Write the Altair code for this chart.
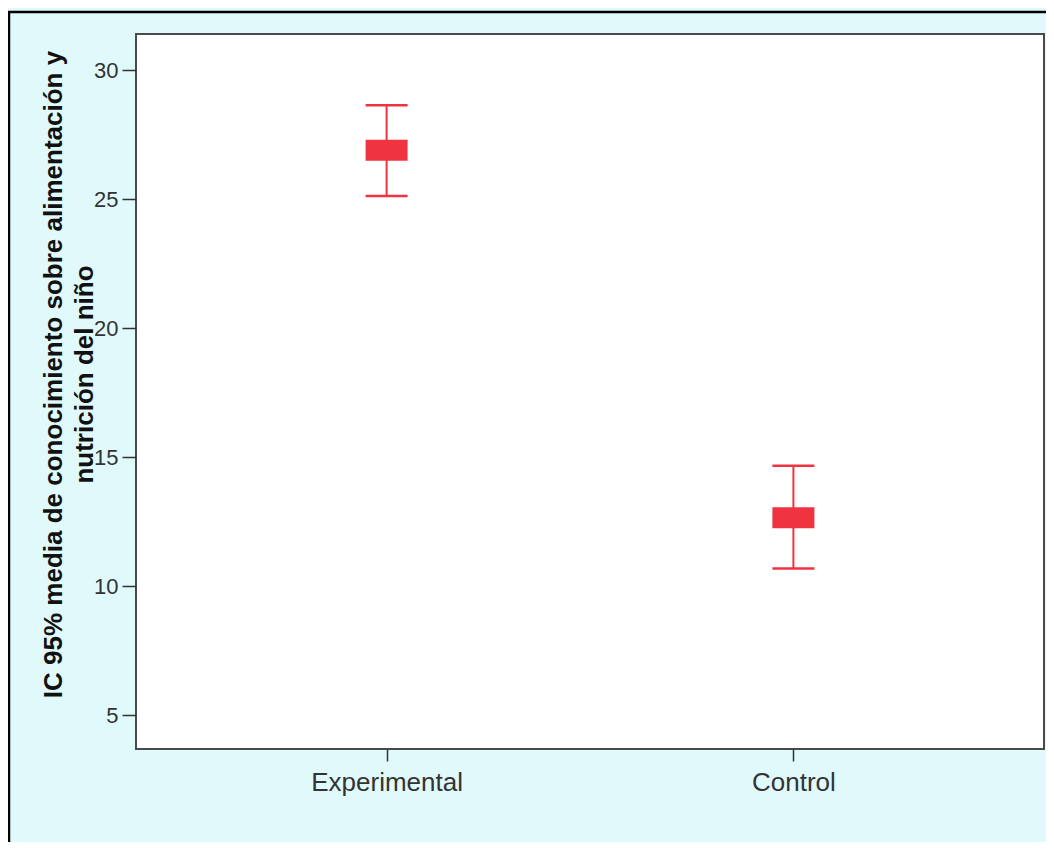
import altair as alt
import pandas as pd

groups = ["Experimental", "Control"]
means = [26.90, 12.66]
lower = [25.12, 10.69]
upper = [28.64, 14.67]
y_ticks = [5, 10, 15, 20, 25, 30]
y_title = ["IC 95% media de conocimiento sobre alimentación y", "nutrición del niño"]

df = pd.DataFrame({"grupo": groups, "media": means, "inf": lower, "sup": upper})

RED = "#EF3340"
FONT = "Liberation Sans"

x_enc = alt.X(
    "grupo:N",
    sort=groups,
    scale=alt.Scale(type="point", padding=0.616),
    axis=alt.Axis(
        title=None, labelAngle=0, labelFontSize=26, labelFont=FONT,
        labelColor="#333333", tickSize=12, tickColor="#333333", tickWidth=1.5,
        domain=False, grid=False, labelPadding=8,
    ),
)
y_scale = alt.Scale(domain=[3.7, 31.4], nice=False, zero=False)
y_axis = alt.Axis(
    values=y_ticks, tickSize=14, tickColor="#333333", tickWidth=1.5,
    labelFontSize=22, labelFont=FONT, labelColor="#333333", labelPadding=4,
    domain=False, grid=False,
    title=y_title, titleFont=FONT, titleFontSize=26, titleFontWeight="bold",
    titleColor="#111111", titleAngle=270, titleX=-83, titleY=340,
    titleAlign="center", titleBaseline="middle", titleLineHeight=31,
)

base = alt.Chart(df)

rule = base.mark_rule(color=RED, strokeWidth=2).encode(
    x=x_enc,
    y=alt.Y("inf:Q", scale=y_scale, axis=y_axis),
    y2="sup:Q",
)
cap_low = base.mark_tick(color=RED, size=42, thickness=2.5, orient="horizontal", opacity=1).encode(
    x=x_enc, y=alt.Y("inf:Q", scale=y_scale, axis=y_axis)
)
cap_high = base.mark_tick(color=RED, size=42, thickness=2.5, orient="horizontal", opacity=1).encode(
    x=x_enc, y=alt.Y("sup:Q", scale=y_scale, axis=y_axis)
)
box = base.mark_tick(color=RED, size=42, thickness=21, orient="horizontal", opacity=1).encode(
    x=x_enc, y=alt.Y("media:Q", scale=y_scale, axis=y_axis)
)

frame_df = pd.DataFrame({"k": [0]})
top_border = alt.Chart(frame_df).mark_rule(color="black", strokeWidth=2.5).encode(
    x=alt.value(-128), x2=alt.value(930), y=alt.value(-22)
)
left_border = alt.Chart(frame_df).mark_rule(color="black", strokeWidth=2.5).encode(
    x=alt.value(-127), y=alt.value(-23), y2=alt.value(840)
)

chart = (
    alt.layer(rule, cap_low, cap_high, box, top_border, left_border)
    .properties(
        width=908, height=715, autosize="none",
        padding={"left": 128, "top": 26, "right": 2, "bottom": 93},
    )
    .configure(background="#E0FAFB")
    .configure_view(fill="white", stroke="#4a4a4a", strokeWidth=2)
)

chart.save("out.html", embed_options={"renderer": "svg", "actions": False})
